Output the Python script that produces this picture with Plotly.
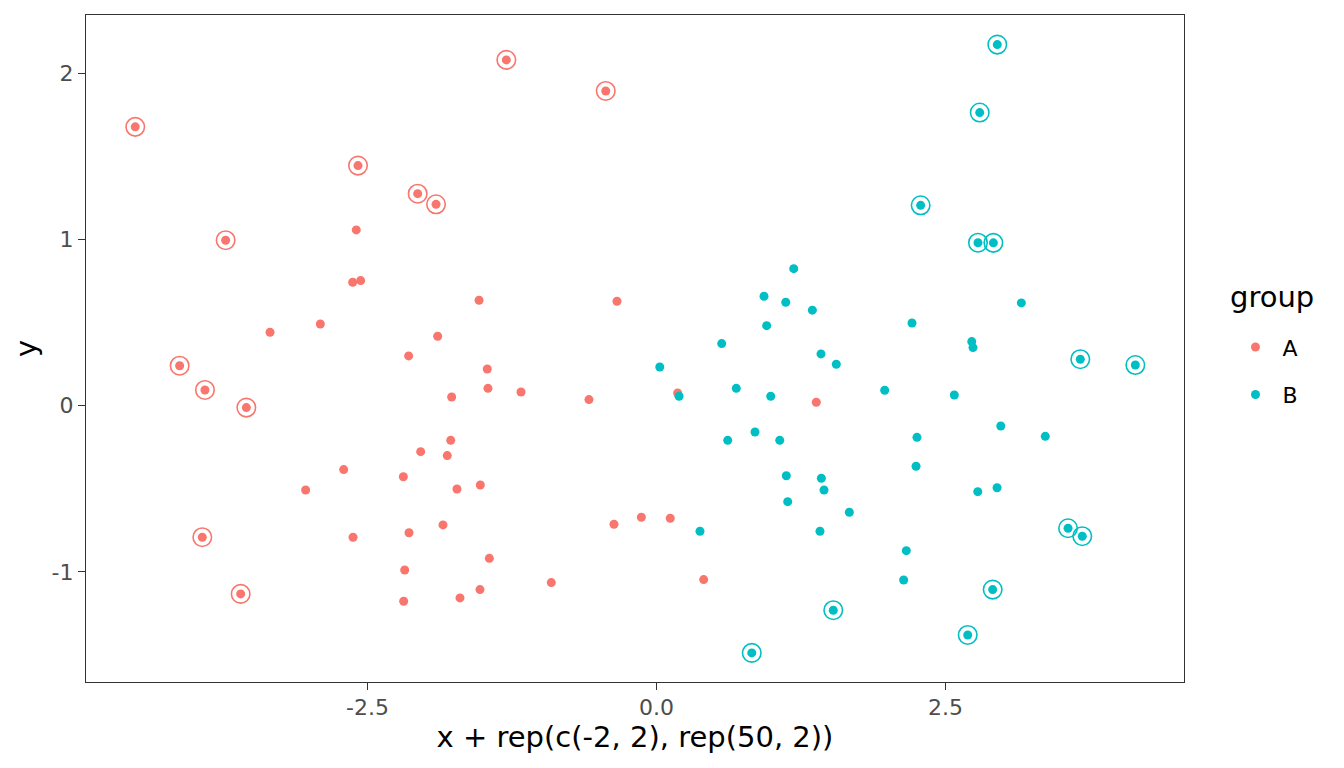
import plotly.graph_objects as go

# ---- data ----
groups = ["A", "B"]
colors = {"A": "#F8766D", "B": "#00BFC4"}

xA = [-4.509, -2.582, -3.727, -4.125, -3.906, -3.548, -3.929, -3.597, -1.299, -0.439, -2.066, -1.907,
      -2.597, -2.628, -2.559, -2.908, -3.343, -2.706, -3.035, -2.625, -1.535, -0.342, -1.893, -2.144,
      -1.464, -1.458, -1.172, -1.772, -0.584, 0.183, -1.780, -2.040, -1.810, -2.190, -1.524, -1.726,
      -1.847, -2.141, -0.368, -0.131, 0.119, -1.446, -2.178, -0.910, -1.527, -1.700, -2.187, 1.382, 0.408]
yA = [1.678, 1.445, 0.996, 0.241, 0.095, -0.011, -0.791, -1.132, 2.081, 1.894, 1.276, 1.212,
      1.058, 0.743, 0.753, 0.492, 0.442, -0.384, -0.507, -0.791, 0.635, 0.629, 0.418, 0.300,
      0.221, 0.105, 0.083, 0.053, 0.037, 0.077, -0.208, -0.276, -0.300, -0.427, -0.477, -0.501,
      -0.717, -0.764, -0.713, -0.671, -0.677, -0.918, -0.988, -1.064, -1.106, -1.156, -1.176, 0.021, -1.046]
flagA = [1] * 12 + [0] * 37

xB = [2.948, 2.796, 2.285, 2.781, 2.914, 3.666, 4.142, 3.560, 3.683, 2.908, 2.692, 1.529, 0.824,
      3.156, 2.210, 2.727, 2.738, 2.576, 2.978, 3.363, 1.974, 2.253, 2.245, 2.946, 2.779, 2.161, 2.138,
      1.187, 0.930, 1.118, 1.348, 0.953, 0.564, 1.423, 1.555, 0.028, 0.195, 0.690, 0.988, 0.852,
      0.616, 1.066, 1.123, 1.426, 1.449, 1.135, 1.668, 0.376, 1.414]
yB = [2.173, 1.764, 1.206, 0.981, 0.980, 0.280, 0.245, -0.737, -0.785, -1.106, -1.379, -1.230, -1.487,
      0.619, 0.498, 0.386, 0.350, 0.065, -0.122, -0.184, 0.093, -0.190, -0.364, -0.493, -0.517, -0.872, -1.048,
      0.825, 0.659, 0.623, 0.575, 0.482, 0.374, 0.312, 0.250, 0.233, 0.057, 0.105, 0.057, -0.158,
      -0.208, -0.208, -0.421, -0.436, -0.507, -0.577, -0.641, -0.755, -0.755]
flagB = [1] * 13 + [0] * 36

x_ticks = [-2.5, 0.0, 2.5]
x_ticklabels = ["-2.5", "0.0", "2.5"]
y_ticks = [-1, 0, 1, 2]
y_ticklabels = ["-1", "0", "1", "2"]

data = {"A": (xA, yA, flagA), "B": (xB, yB, flagB)}

FONT = "DejaVu Sans"
fig = go.Figure()
for g in groups:
    xs, ys, fl = data[g]
    fig.add_trace(go.Scatter(
        x=xs, y=ys, mode="markers", name=g, legendgroup=g,
        marker=dict(color=colors[g], size=9, line=dict(width=0)),
        showlegend=True))
    fig.add_trace(go.Scatter(
        x=[a for a, f in zip(xs, fl) if f], y=[b for b, f in zip(ys, fl) if f],
        mode="markers", name=g, legendgroup=g, showlegend=False,
        marker=dict(symbol="circle-open", color=colors[g], size=18.5,
                    line=dict(width=1.6, color=colors[g]))))

axis_common = dict(
    showgrid=False, zeroline=False, showline=True, mirror=True,
    linecolor="#333333", linewidth=1.3,
    ticks="outside", ticklen=7, tickwidth=1.3, tickcolor="#333333",
    tickfont=dict(family=FONT, size=22, color="#4D4D4D"),
)

fig.update_layout(
    width=1336, height=760,
    margin=dict(l=78, r=160, t=7, b=86),
    paper_bgcolor="white", plot_bgcolor="white",
    font=dict(family=FONT, color="black"),
    xaxis=dict(range=[-4.935, 4.563], tickvals=x_ticks, ticktext=x_ticklabels,
               ticklabelstandoff=-2,
               title=dict(text="x + rep(c(-2, 2), rep(50, 2))",
                          font=dict(family=FONT, size=29, color="black"), standoff=5),
               **axis_common),
    yaxis=dict(range=[-1.662, 2.351], tickvals=y_ticks, ticktext=y_ticklabels,
               title=dict(text="y", font=dict(family=FONT, size=29, color="black"), standoff=6),
               **axis_common),
    legend=dict(
        font=dict(family=FONT, size=22, color="black"),
        x=1.0405, xanchor="left", y=0.5335, yanchor="top",
        itemwidth=44, tracegroupgap=16, traceorder="grouped",
        bgcolor="rgba(0,0,0,0)"),
    annotations=[dict(text="group", xref="paper", yref="paper", x=1.040, y=0.577,
                      xanchor="left", yanchor="middle", showarrow=False,
                      font=dict(family=FONT, size=29, color="black"))],
)

fig.write_html("out.html")
